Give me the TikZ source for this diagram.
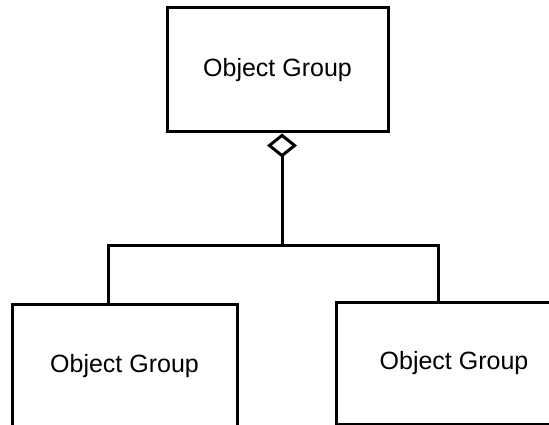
\documentclass[tikz,border=0pt]{standalone}
\usepackage{fontspec}
\setmainfont{Liberation Sans}
\usetikzlibrary{arrows.meta}
\tikzset{
  groupbox/.style={draw=black, line width=3pt, rectangle, font=\fontsize{25}{30}\selectfont},
  link/.style={draw=black, line width=3pt},
}
\begin{document}
\begin{tikzpicture}[x=1pt,y=-1pt]
  \useasboundingbox (0,0) rectangle (549,425);
  \clip (0,0) rectangle (549,425);
  % boxes
  \node[groupbox, minimum width=221pt, minimum height=124pt] (parent) at (277.5,70) {Object Group};
  \node[groupbox, minimum width=225pt, minimum height=124pt] (childL) at (124.5,366) {Object Group};
  \node[groupbox, minimum width=236pt, minimum height=122pt] (childR) at (454,363) {Object Group};
  % joints of the tree
  \coordinate (bar) at (282,245);
  \coordinate (dropL) at (108,245);
  \coordinate (dropR) at (438,245);
  \draw[link, {Diamond[open, length=24pt, width=30pt]}-] (parent.south -| bar) -- (bar);
  \draw[link] (childL.north -| dropL) -- (dropL) -- (dropR) -- (childR.north -| dropR);
\end{tikzpicture}
\end{document}
